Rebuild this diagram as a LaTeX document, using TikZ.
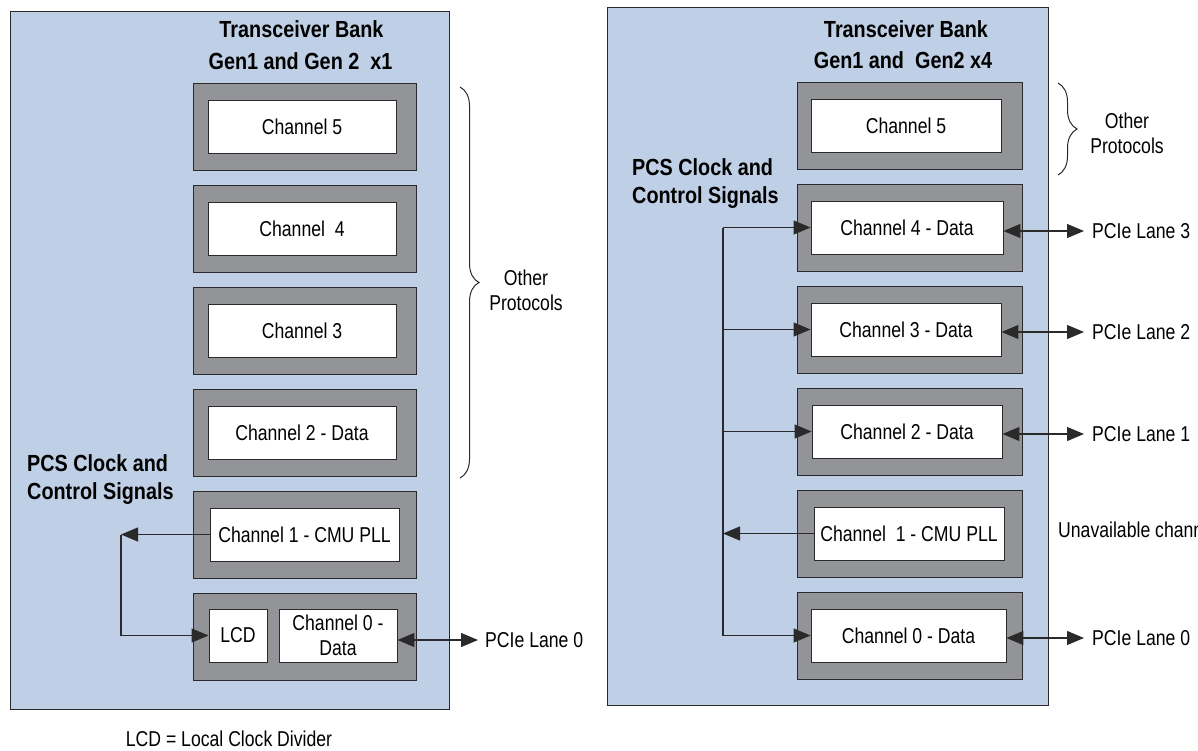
\documentclass[tikz,border=0pt]{standalone}
\usepackage{fontspec}
\setmainfont{Liberation Sans}[FakeStretch=0.82]
\newfontfamily\ttlfont{Liberation Sans}[FakeStretch=0.85]
\usetikzlibrary{arrows.meta,decorations.pathreplacing}
\definecolor{panelblue}{HTML}{BFCFE5}
\definecolor{chgray}{HTML}{929497}
\definecolor{edge}{HTML}{2A2A2A}
\begin{document}
\begin{tikzpicture}[x=1pt,y=-1pt,
  panel/.style={draw=edge,line width=1pt,fill=panelblue,inner sep=0pt,rectangle},
  gbox/.style={draw=edge,line width=0.8pt,fill=chgray,inner sep=0pt,minimum height=87pt},
  wbox/.style={draw=edge,line width=0.9pt,fill=white,inner sep=0pt,minimum height=53pt,
    font=\fontsize{21.5}{25.5}\selectfont,align=center},
  ttl/.style={font=\ttlfont\bfseries\fontsize{23.3}{28}\selectfont,inner sep=0pt},
  lbl/.style={font=\fontsize{21.5}{25}\selectfont,inner sep=0pt},
  conn/.style={line width=1.1pt,draw=edge},
  arr/.style={-{Triangle[length=17pt,width=14pt]}},
  darr/.style={{Triangle[length=17pt,width=14pt]}-{Triangle[length=17pt,width=14pt]}},
  brc/.style={decorate,decoration={brace,amplitude=19pt},line width=1pt,draw=edge}]
\useasboundingbox (0,0) rectangle (1198,750);
\clip (0,0) rectangle (1198,750);

% ---------------- Left panel ----------------
\node[panel,minimum width=439pt,minimum height=698pt] (lpanel) at (229.5,360) {};
\node[ttl,anchor=base] (lt1) at (301.5,37.7) {Transceiver Bank};
\node[ttl,anchor=base] (lt2) at (300.5,69.3) {Gen1 and Gen 2\ \ x1};

\node[gbox,minimum width=223pt] (lg5) at (304.5,126.5) {};
\node[gbox,minimum width=223pt] (lg4) at (304.5,228.5) {};
\node[gbox,minimum width=223pt] (lg3) at (304.5,330.5) {};
\node[gbox,minimum width=223pt] (lg2) at (304.5,432.5) {};
\node[gbox,minimum width=223pt] (lg1) at (304.5,534.5) {};
\node[gbox,minimum width=223pt] (lg0) at (304.5,636.5) {};

\node[wbox,minimum width=188pt] (l5) at (302,126.5) {Channel 5};
\node[wbox,minimum width=188pt] (l4) at (302,228.5) {Channel\ \ 4};
\node[wbox,minimum width=188pt] (l3) at (302,330.5) {Channel 3};
\node[wbox,minimum width=188pt] (l2) at (302,432.5) {Channel 2 - Data};
\node[wbox,minimum width=189pt] (l1) at (304.5,534.5) {Channel 1 - CMU PLL};
\node[wbox,minimum width=58pt] (lcd) at (238,635.5) {LCD};
\node[wbox,minimum width=118pt] (l0) at (338,635.5) {Channel 0 -\\Data};

\node[ttl,anchor=west,align=left] (lpcs) at (27,480) {PCS Clock and\\Control Signals};

\coordinate (lbus) at (121,534.5);
\draw[conn,arr] (l1.west) -- (lbus);
\draw[conn,arr] (lbus) |- (lcd.west);

\coordinate (lp0) at (478,640);
\node[lbl,anchor=west] (lane0L) at (485,640) {PCIe Lane 0};
\draw[conn,darr] ([yshift=-4.5pt]l0.east) -- (lp0);

\coordinate (lbt) at (460,87);
\coordinate (lbb) at (460,478);
\draw[brc] (lbt) -- (lbb);
\node[lbl,align=center] (lop) at (526,290) {Other\\Protocols};

\node[lbl,anchor=base,text depth=0pt] (lcdnote) at (229,746) {LCD = Local Clock Divider};

% ---------------- Right panel ----------------
\node[panel,minimum width=441pt,minimum height=698pt] (rpanel) at (827.5,356) {};
\node[ttl,anchor=base] (rt1) at (906,37) {Transceiver Bank};
\node[ttl,anchor=base] (rt2) at (903,68.5) {Gen1 and\ \ Gen2 x4};

\node[gbox,minimum width=225pt] (rg5) at (909.5,125.5) {};
\node[gbox,minimum width=225pt] (rg4) at (909.5,227.5) {};
\node[gbox,minimum width=225pt] (rg3) at (909.5,329.5) {};
\node[gbox,minimum width=225pt] (rg2) at (909.5,431.5) {};
\node[gbox,minimum width=225pt] (rg1) at (909.5,533.5) {};
\node[gbox,minimum width=225pt] (rg0) at (909.5,635.5) {};

\node[wbox,minimum width=190pt] (r5) at (906,125.5) {Channel 5};
\node[wbox,minimum width=192pt] (r4) at (907,227.5) {Channel 4 - Data};
\node[wbox,minimum width=190pt] (r3) at (906,329.5) {Channel 3 - Data};
\node[wbox,minimum width=190pt] (r2) at (907,431.5) {Channel 2 - Data};
\node[wbox,minimum width=190pt] (r1) at (909,533.5) {Channel\ \ 1 - CMU PLL};
\node[wbox,minimum width=195pt] (r0) at (908.5,635.5) {Channel 0 - Data};

\node[ttl,anchor=west,align=left] (rpcs) at (632,184) {PCS Clock and\\Control Signals};

\coordinate (rbusT) at (723,227.5);
\coordinate (rbusB) at (723,635.5);
\draw[conn] (rbusT) -- (rbusB);
\draw[conn,arr] (rbusT) -- (r4.west);
\draw[conn,arr] (r3.west -| rbusT) -- (r3.west);
\draw[conn,arr] (r2.west -| rbusT) -- (r2.west);
\draw[conn,arr] (r1.west) -- (r1.west -| rbusT);
\draw[conn,arr] (rbusB) -- (r0.west);

\coordinate (rp3) at (1084,231);
\coordinate (rp2) at (1084,332);
\coordinate (rp1) at (1084,434);
\coordinate (rp0) at (1084,638);
\draw[conn,darr] ([yshift=-3.5pt]r4.east) -- (rp3);
\draw[conn,darr] ([yshift=-2.5pt]r3.east) -- (rp2);
\draw[conn,darr] ([yshift=-2.5pt]r2.east) -- (rp1);
\draw[conn,darr] ([yshift=-2.5pt]r0.east) -- (rp0);
\node[lbl,anchor=west] (lane3) at (1092,231) {PCIe Lane 3};
\node[lbl,anchor=west] (lane2) at (1092,332) {PCIe Lane 2};
\node[lbl,anchor=west] (lane1) at (1092,434) {PCIe Lane 1};
\node[lbl,anchor=west] (lane0R) at (1092,638) {PCIe Lane 0};
\node[lbl,anchor=west] (unav) at (1058,530) {Unavailable channel};

\coordinate (rbt) at (1058,83);
\coordinate (rbb) at (1058,175);
\draw[brc] (rbt) -- (rbb);
\node[lbl,align=center] (rop) at (1127,133) {Other\\Protocols};
\end{tikzpicture}
\end{document}
